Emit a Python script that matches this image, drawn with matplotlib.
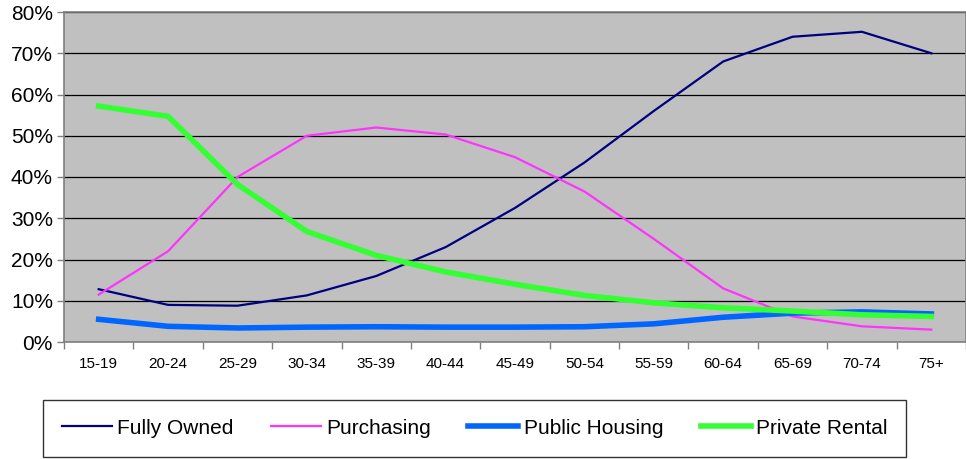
import matplotlib
matplotlib.use('agg')
import matplotlib.pyplot as plt
import numpy as np
from matplotlib.ticker import FuncFormatter, FixedLocator

plt.rcParams['font.family'] = ['Liberation Sans', 'DejaVu Sans']

age_groups = ['15-19', '20-24', '25-29', '30-34', '35-39', '40-44', '45-49',
              '50-54', '55-59', '60-64', '65-69', '70-74', '75+']
fully_owned = [12.8, 9.0, 8.8, 11.3, 16.0, 23.0, 32.5, 43.5, 56.0, 68.0, 74.0, 75.2, 70.0]
purchasing = [11.5, 22.0, 40.0, 50.0, 52.0, 50.3, 44.8, 36.5, 25.0, 13.0, 6.2, 3.8, 3.0]
public_housing = [5.5, 3.8, 3.4, 3.6, 3.7, 3.6, 3.6, 3.7, 4.4, 6.0, 7.0, 7.3, 6.8]
private_rental = [57.2, 54.7, 38.2, 26.8, 21.0, 17.0, 14.0, 11.3, 9.5, 8.3, 7.5, 6.6, 6.2]

fig = plt.figure(figsize=(9.66, 4.59), dpi=100)
ax = fig.add_axes([64 / 966, 1 - 342 / 459, 902 / 966, 330 / 459])
ax.set_facecolor('#C0C0C0')

x = np.arange(len(age_groups))
ax.plot(x, fully_owned, color='#000080', lw=1.6, label='Fully Owned', zorder=3)
ax.plot(x, purchasing, color='#FF33FF', lw=1.6, label='Purchasing', zorder=3)
ax.plot(x, public_housing, color='#0066FF', lw=4.0, label='Public Housing', zorder=3)
ax.plot(x, private_rental, color='#33FF33', lw=4.0, label='Private Rental', zorder=3)

ax.set_xlim(-0.5, len(age_groups) - 0.5)
ax.set_ylim(0, 80)
ax.set_yticks(np.arange(0, 81, 10))
ax.yaxis.set_major_formatter(FuncFormatter(lambda v, p: '%d%%' % v))
ax.grid(axis='y', color='black', lw=0.9, zorder=1)

# category labels sit between the tick marks
ax.xaxis.set_major_locator(FixedLocator(np.arange(-0.5, len(age_groups), 1)))
ax.xaxis.set_major_formatter(FuncFormatter(lambda v, p: ''))
ax.set_xticks(x, minor=True)
ax.set_xticklabels(age_groups, minor=True)
ax.tick_params(axis='x', which='minor', length=0, labelsize=11, pad=11)
ax.tick_params(axis='x', which='major', length=5, color='#808080', width=1)
ax.tick_params(axis='y', length=5, color='#808080', width=1, labelsize=15, pad=3)

for side in ['left', 'bottom', 'top', 'right']:
    ax.spines[side].set_color('#808080')
    ax.spines[side].set_linewidth(1.2)

leg = fig.legend(loc='upper left', bbox_to_anchor=(43 / 966, 1 - 400 / 459),
                 borderaxespad=0, ncol=4, fontsize=15, frameon=True, fancybox=False,
                 edgecolor='black', handlelength=2.4, handletextpad=0.25,
                 borderpad=0.9, columnspacing=1.8)
leg.get_frame().set_linewidth(1.0)

plt.savefig('out.png', dpi=100)
plt.close()
